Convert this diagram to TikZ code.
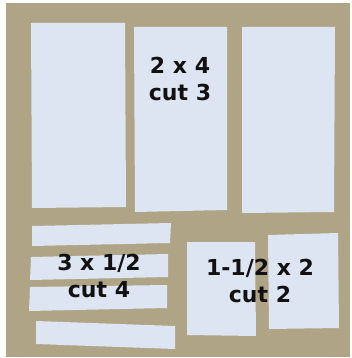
\documentclass[tikz,border=0pt]{standalone}
\usepackage{fontspec}
\setmainfont{DejaVu Sans}
\usepackage{tikz}

\definecolor{board}{RGB}{176,164,134}
\definecolor{paper}{RGB}{221,228,242}
\definecolor{ink}{RGB}{17,17,17}

\begin{document}
\begin{tikzpicture}[x=1pt, y=-1pt,
		piece/.style={fill=paper},
		cutlabel/.style={text=ink, font=\fontsize{22}{27}\selectfont\bfseries, align=center, inner sep=0pt}]
			% Frame
			\useasboundingbox (0,0) rectangle (352,358);
			\fill[white] (0,0) rectangle (352,358);
			\fill[board] (6,3) rectangle (350,357);

			% Big pieces
			\fill[piece] (31,23) -- (125,23) -- (126,207) -- (32,208) -- cycle;
			\fill[piece] (134,27) -- (227,27) -- (227,210) -- (135,212) -- cycle;
			\fill[piece] (242,27) -- (335,27) -- (334,212) -- (242,213) -- cycle;

			% Strips
			\fill[piece] (32,226) -- (171,223) -- (170,243) -- (32,246) -- cycle;
			\fill[piece] (31,257) -- (168,254) -- (168,277) -- (30,280) -- cycle;
			\fill[piece] (30,287) -- (167,285) -- (167,308) -- (29,311) -- cycle;
			\fill[piece] (36,321) -- (175,326) -- (175,349) -- (36,344) -- cycle;

			% Small pieces
			\fill[piece] (187,242) -- (255,242) -- (256,336) -- (187,335) -- cycle;
			\fill[piece] (268,235) -- (338,233) -- (339,328) -- (269,329) -- cycle;

			% Labels
			\node[cutlabel] (big) at (180,79) {2 x 4\\cut 3};
			\node[cutlabel] (strip) at (99,276) {3 x 1/2\\cut 4};
			\node[cutlabel] (small) at (260,281) {1-1/2 x 2\\cut 2};
		\end{tikzpicture}
\end{document}
